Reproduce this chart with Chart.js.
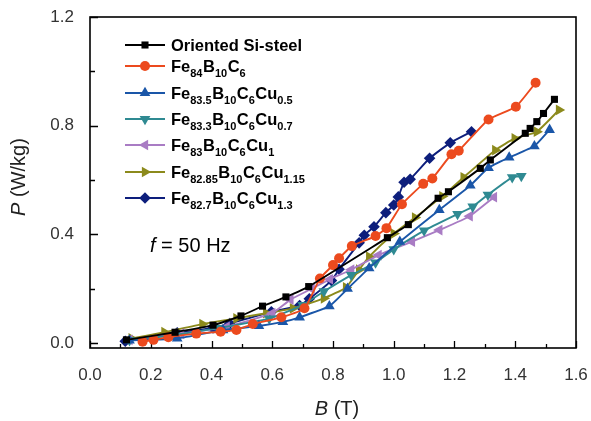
<!DOCTYPE html>
<html>
<head>
<meta charset="utf-8">
<script src="https://cdn.jsdelivr.net/npm/chart.js@4.4.1/dist/chart.umd.min.js"></script>
<style>
  html, body { margin: 0; padding: 0; background: #fff; }
  #wrap { width: 591px; height: 421px; position: relative; }
</style>
</head>
<body>
<div id="wrap"><canvas id="c" width="591" height="421"></canvas></div>
<script>
// Core loss P (W/kg) vs peak induction B (T), f = 50 Hz
const siSteelB = [0.12, 0.28, 0.405, 0.497, 0.568, 0.645, 0.72, 0.979, 1.048, 1.146, 1.18, 1.285, 1.318, 1.433, 1.449, 1.471, 1.493, 1.529];
const siSteelP = [0.012, 0.04, 0.066, 0.10, 0.136, 0.17, 0.208, 0.388, 0.436, 0.533, 0.557, 0.643, 0.674, 0.772, 0.79, 0.815, 0.845, 0.897];

const fe84B = [0.173, 0.209, 0.258, 0.35, 0.43, 0.482, 0.536, 0.63, 0.706, 0.757, 0.80, 0.82, 0.862, 0.94, 0.976, 1.027, 1.097, 1.127, 1.19, 1.214, 1.312, 1.402, 1.467];
const fe84P = [0.005, 0.012, 0.022, 0.035, 0.042, 0.048, 0.07, 0.095, 0.128, 0.238, 0.287, 0.312, 0.357, 0.394, 0.423, 0.511, 0.586, 0.606, 0.695, 0.708, 0.823, 0.87, 0.958];

const cu05B = [0.13, 0.287, 0.438, 0.556, 0.635, 0.69, 0.788, 0.848, 0.919, 1.02, 1.15, 1.252, 1.312, 1.38, 1.463, 1.513];
const cu05P = [0.01, 0.017, 0.048, 0.063, 0.078, 0.095, 0.136, 0.2, 0.276, 0.373, 0.49, 0.58, 0.645, 0.683, 0.725, 0.785];

const cu07B = [0.13, 0.28, 0.42, 0.59, 0.70, 0.77, 0.86, 0.94, 1.0, 1.1, 1.21, 1.26, 1.31, 1.39, 1.42];
const cu07P = [0.01, 0.03, 0.055, 0.09, 0.14, 0.19, 0.25, 0.296, 0.345, 0.414, 0.475, 0.502, 0.546, 0.61, 0.615];

const cu1B = [0.13, 0.3, 0.45, 0.6, 0.66, 0.73, 0.79, 0.86, 0.95, 1.06, 1.15, 1.25, 1.33];
const cu1P = [0.012, 0.035, 0.06, 0.11, 0.16, 0.2, 0.235, 0.27, 0.324, 0.373, 0.416, 0.467, 0.537];

const cu115B = [0.137, 0.245, 0.37, 0.482, 0.58, 0.668, 0.77, 0.843, 0.886, 0.919, 1.0, 1.07, 1.16, 1.23, 1.334, 1.398, 1.471, 1.544];
const cu115P = [0.017, 0.04, 0.07, 0.091, 0.11, 0.128, 0.165, 0.205, 0.27, 0.318, 0.403, 0.462, 0.54, 0.61, 0.71, 0.753, 0.778, 0.858];

const cu13B = [0.116, 0.287, 0.405, 0.46, 0.597, 0.69, 0.722, 0.795, 0.82, 0.886, 0.903, 0.935, 0.974, 1.0, 1.015, 1.034, 1.054, 1.118, 1.186, 1.256];
const cu13P = [0.007, 0.038, 0.056, 0.072, 0.115, 0.138, 0.163, 0.23, 0.272, 0.369, 0.397, 0.428, 0.48, 0.508, 0.538, 0.592, 0.603, 0.68, 0.737, 0.778];

const xTicks = [0, 0.2, 0.4, 0.6, 0.8, 1.0, 1.2, 1.4, 1.6];
const yTicks = [0, 0.4, 0.8, 1.2];

// legend labels: [text, isSubscript]
const legendLabels = [
  [['Oriented Si-steel', false]],
  [['Fe', false], ['84', true], ['B', false], ['10', true], ['C', false], ['6', true]],
  [['Fe', false], ['83.5', true], ['B', false], ['10', true], ['C', false], ['6', true], ['Cu', false], ['0.5', true]],
  [['Fe', false], ['83.3', true], ['B', false], ['10', true], ['C', false], ['6', true], ['Cu', false], ['0.7', true]],
  [['Fe', false], ['83', true], ['B', false], ['10', true], ['C', false], ['6', true], ['Cu', false], ['1', true]],
  [['Fe', false], ['82.85', true], ['B', false], ['10', true], ['C', false], ['6', true], ['Cu', false], ['1.15', true]],
  [['Fe', false], ['82.7', true], ['B', false], ['10', true], ['C', false], ['6', true], ['Cu', false], ['1.3', true]]
];

const series = [
  { b: siSteelB, p: siSteelP, color: '#000000', style: 'rect', rot: 0, r: 5 },
  { b: fe84B, p: fe84P, color: '#EC4A1E', style: 'circle', rot: 0, r: 5 },
  { b: cu05B, p: cu05P, color: '#1A56A8', style: 'triangle', rot: 0, r: 6.2 },
  { b: cu07B, p: cu07P, color: '#2F8A92', style: 'triangle', rot: 180, r: 6.2 },
  { b: cu1B, p: cu1P, color: '#A97CC4', style: 'triangle', rot: 270, r: 6.2 },
  { b: cu115B, p: cu115P, color: '#8C8A1C', style: 'triangle', rot: 90, r: 6.2 },
  { b: cu13B, p: cu13P, color: '#0D1E7C', style: 'rectRot', rot: 0, r: 5.8 }
];

const FONT = '"Liberation Sans", Arial, sans-serif';

const datasets = series.map((s, i) => ({
  label: legendLabels[i].map(t => t[0]).join(''),
  data: s.b.map((b, k) => ({ x: b, y: s.p[k] })),
  borderColor: s.color,
  backgroundColor: s.color,
  borderWidth: 1.9,
  pointStyle: s.style,
  rotation: s.rot,
  pointRadius: s.r,
  pointBorderWidth: 0,
  tension: 0.15,
  fill: false
}));

const frame = {
  id: 'frame',
  beforeDatasetsDraw(chart) {
    const { ctx, chartArea: a, scales: { x, y } } = chart;
    ctx.save();
    ctx.strokeStyle = '#000';
    ctx.lineWidth = 1.3;
    ctx.beginPath();
    for (let v = 0; v <= 1.6001; v += 0.1) {
      const px = Math.round(x.getPixelForValue(v)) + 0.5;
      const major = Math.round(v * 10) % 2 === 0;
      ctx.moveTo(px, a.bottom);
      ctx.lineTo(px, a.bottom - (major ? 7 : 4));
    }
    for (let v = 0; v <= 1.2001; v += 0.2) {
      const py = Math.round(y.getPixelForValue(v)) + 0.5;
      const major = Math.round(v * 10) % 4 === 0;
      ctx.moveTo(a.left, py);
      ctx.lineTo(a.left + (major ? 8 : 5), py);
    }
    ctx.stroke();
    ctx.restore();
  },
  afterDraw(chart) {
    const { ctx, chartArea: a } = chart;
    ctx.save();
    // plot frame
    ctx.strokeStyle = '#000';
    ctx.lineWidth = 1.6;
    ctx.strokeRect(a.left, a.top, a.right - a.left, a.bottom - a.top);

    // legend
    const rows = [45, 66, 93, 119, 145, 172, 198];
    series.forEach((s, i) => {
      const yy = rows[i];
      ctx.strokeStyle = s.color;
      ctx.lineWidth = 1.9;
      ctx.beginPath();
      ctx.moveTo(125, yy);
      ctx.lineTo(165, yy);
      ctx.stroke();
      ctx.fillStyle = s.color;
      ctx.strokeStyle = s.color;
      Chart.helpers.drawPoint(ctx, { pointStyle: s.style, rotation: s.rot, radius: s.r, borderWidth: 0 }, 145, yy);
      let tx = 171;
      ctx.fillStyle = '#000';
      ctx.textBaseline = 'alphabetic';
      ctx.textAlign = 'left';
      legendLabels[i].forEach(([t, sub]) => {
        ctx.font = sub ? 'bold 11px ' + FONT : 'bold 16.5px ' + FONT;
        ctx.fillText(t, tx, sub ? yy + 11 : yy + 6);
        tx += ctx.measureText(t).width + (sub ? 0.5 : 0);
      });
    });

    // frequency note
    ctx.fillStyle = '#000';
    ctx.font = 'italic 20px ' + FONT;
    ctx.fillText('f', 150, 252);
    const fw = ctx.measureText('f').width;
    ctx.font = '20px ' + FONT;
    ctx.fillText(' = 50 Hz', 150 + fw, 252);

    // axis titles
    ctx.fillStyle = '#222';
    ctx.font = 'italic 20px ' + FONT;
    const bw = ctx.measureText('B').width;
    ctx.font = '20px ' + FONT;
    const tw = ctx.measureText(' (T)').width;
    let sx = (a.left + a.right) / 2 + 4 - (bw + tw) / 2;
    ctx.font = 'italic 20px ' + FONT;
    ctx.fillText('B', sx, 415);
    ctx.font = '20px ' + FONT;
    ctx.fillText(' (T)', sx + bw, 415);

    ctx.translate(25, 177);
    ctx.rotate(-Math.PI / 2);
    ctx.font = 'italic 20px ' + FONT;
    const pw = ctx.measureText('P').width;
    ctx.font = '20px ' + FONT;
    const uw = ctx.measureText(' (W/kg)').width;
    sx = -(pw + uw) / 2;
    ctx.font = 'italic 20px ' + FONT;
    ctx.fillText('P', sx, 0);
    ctx.font = '20px ' + FONT;
    ctx.fillText(' (W/kg)', sx + pw, 0);
    ctx.restore();
  }
};

new Chart(document.getElementById('c'), {
  type: 'line',
  data: { datasets },
  options: {
    responsive: false,
    animation: false,
    devicePixelRatio: 1,
    layout: { padding: { left: 0, top: 17, right: 15, bottom: 0 } },
    plugins: { legend: { display: false }, tooltip: { enabled: false } },
    scales: {
      x: {
        type: 'linear',
        min: 0, max: 1.6,
        afterBuildTicks: s => { s.ticks = xTicks.map(v => ({ value: v })); },
        afterFit: s => { s.height = 73; s.paddingLeft = 0; s.paddingRight = 0; },
        grid: { display: false },
        border: { display: false },
        ticks: { color: '#333', padding: 9, maxRotation: 0, font: { family: FONT, size: 17 }, callback: v => v.toFixed(1) }
      },
      y: {
        type: 'linear',
        min: -0.018, max: 1.2,
        afterBuildTicks: s => { s.ticks = yTicks.map(v => ({ value: v })); },
        afterFit: s => { s.width = 90; s.paddingTop = 0; s.paddingBottom = 0; },
        grid: { display: false },
        border: { display: false },
        ticks: { color: '#333', padding: 8, font: { family: FONT, size: 17 }, callback: v => v.toFixed(1) }
      }
    }
  },
  plugins: [frame]
});
</script>
</body>
</html>
